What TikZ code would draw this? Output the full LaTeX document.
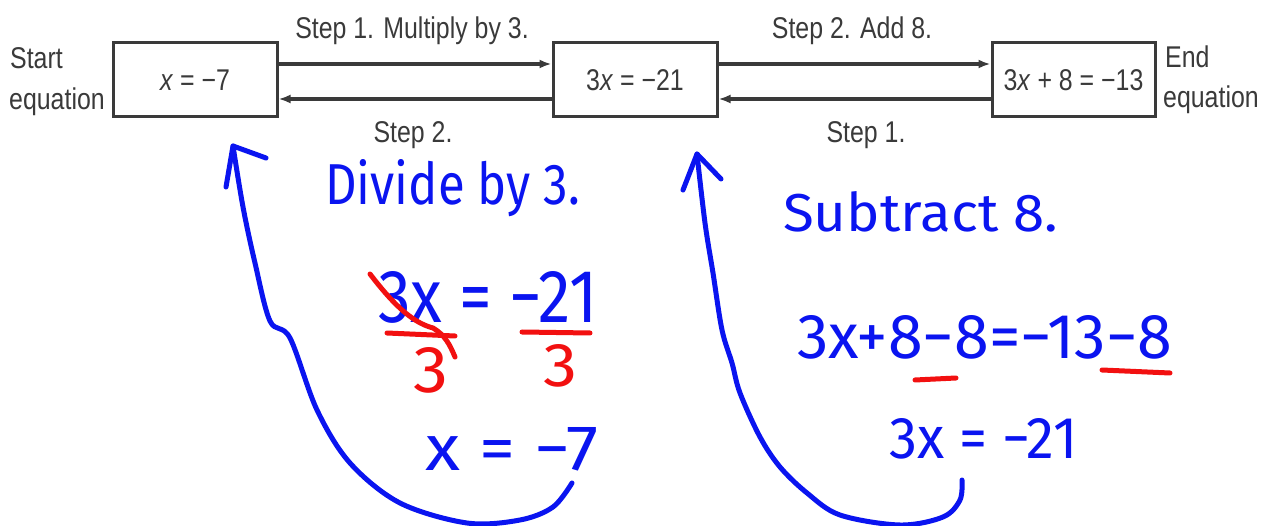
\documentclass[tikz,border=0pt]{standalone}
\usepackage{fontspec}
\setmainfont[FakeStretch=0.83]{Liberation Sans}
\newfontfamily\handfont{Fira Sans}
\usepackage{graphicx}
\usetikzlibrary{arrows.meta}
\definecolor{ink}{HTML}{0A14F0}
\definecolor{redink}{HTML}{F21010}
\definecolor{printgray}{HTML}{3A3A3A}
\newcommand{\hw}[3]{\resizebox{#1}{#2}{\handfont #3}}
\begin{document}
\begin{tikzpicture}[x=1pt,y=-1pt,
  eqbox/.style={draw=printgray, line width=3pt, fill=white, minimum width=164pt, minimum height=74pt, inner sep=0pt, font=\fontsize{30}{36}\selectfont, text=printgray},
  lbl/.style={font=\fontsize{30}{36}\selectfont, text=printgray, inner sep=0pt},
  flow/.style={draw=printgray, line width=3.5pt, -{Latex[length=12pt,width=9pt]}},
  handtxt/.style={text=ink, inner sep=0pt, anchor=base west},
  redtxt/.style={text=redink, inner sep=0pt, anchor=base west},
  inkline/.style={draw=ink, line width=5pt, line cap=round, line join=round},
  redline/.style={draw=redink, line width=5pt, line cap=round, line join=round},
]
\useasboundingbox (0,0) rectangle (1269,526);
\fill[white] (0,0) rectangle (1269,526);

% printed diagram
\node[eqbox] (b1) at (195,80) {\textit{x} = −7};
\node[eqbox] (b2) at (635,80) {3\textit{x} = −21};
\node[eqbox, minimum width=163pt] (b3) at (1073.5,80) {3\textit{x} + 8 = −13};

\node[lbl, anchor=base west] (st1) at (10,69) {Start};
\node[lbl, anchor=base west] (st2) at (9,110) {equation};
\node[lbl, anchor=base west] (en1) at (1165,68) {End};
\node[lbl, anchor=base west] (en2) at (1163,108) {equation};
\node[lbl, anchor=base] (s1) at (412,39) {Step 1. Multiply by 3.};
\node[lbl, anchor=base] (s2) at (413,143) {Step 2.};
\node[lbl, anchor=base] (s3) at (852,39) {Step 2. Add 8.};
\node[lbl, anchor=base] (s4) at (866,143) {Step 1.};

\draw[flow] ([yshift=16pt]b1.east) -- ([yshift=16pt]b2.west);
\draw[flow] ([yshift=-19pt]b2.west) -- ([yshift=-19pt]b1.east);
\draw[flow] ([yshift=16pt]b2.east) -- ([yshift=16pt]b3.west);
\draw[flow] ([yshift=-19pt]b3.west) -- ([yshift=-19pt]b2.east);

% handwriting, left
\node[handtxt] (dv) at (325,205) {\hw{255pt}{45pt}{Divide by 3.}};
\node[handtxt] (eqa) at (378,323) {\hw{219pt}{51pt}{3x = −21}};
\draw[redline] (370,274) .. controls (390,300) and (410,322) .. (433,328) .. controls (445,335) and (450,345) .. (455,357);
\draw[redline] (387,333) -- (455,336);
\draw[redline] (522,332) -- (590,333);
\node[redtxt] (r3a) at (413,392) {\hw{35pt}{45pt}{3}};
\node[redtxt] (r3b) at (543,387) {\hw{34pt}{42pt}{3}};
\node[handtxt] (xa) at (425,470) {\hw{173pt}{43pt}{x = −7}};

\coordinate (la) at (572,483);
\coordinate (lt) at (233,146);
\draw[inkline] plot[smooth, tension=0.55] coordinates {(la) (553,507) (520,520) (467,523) (400,503) (350,463) (317,410) (290,338) (270,321) (255,263) (243,207) (lt)};
\draw[inkline] (226,187) -- (lt) -- (266,158);

% handwriting, right
\node[handtxt] (sb) at (783,232) {\hw{275pt}{40pt}{Subtract 8.}};
\node[handtxt] (eqb) at (797,359) {\hw{375pt}{43pt}{3x+8−8=−13−8}};
\draw[redline] (915,380) -- (956,378);
\draw[redline] (1102,370) -- (1170,373);
\node[handtxt] (eqc) at (889,458) {\hw{188pt}{40pt}{3x = −21}};

\coordinate (ra) at (962,480);
\coordinate (rt) at (697,154);
\draw[inkline] plot[smooth, tension=0.55] coordinates {(ra) (960,500) (943,517) (900,525) (840,515) (807,493) (780,467) (760,437) (740,393) (732,363) (722,330) (713,273) (705,223) (rt)};
\draw[inkline] (683,190) -- (rt) -- (721,179);
\end{tikzpicture}
\end{document}
